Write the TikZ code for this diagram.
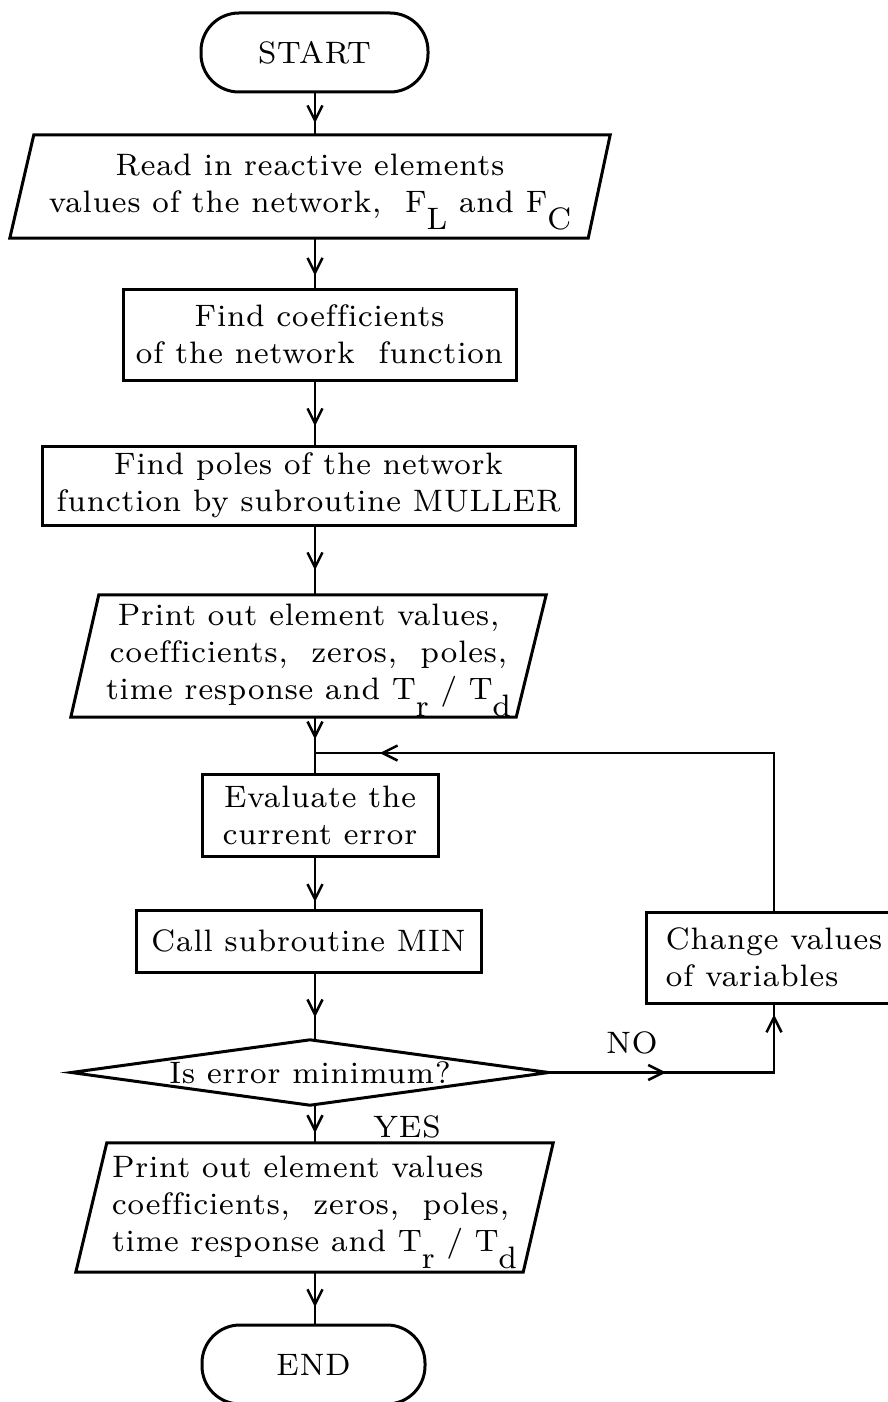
\documentclass[tikz,border=0pt]{standalone}
\usepackage{fontspec}
\setmainfont{lmroman8-regular.otf}[LetterSpace=3, Ligatures=NoCommon]
\usetikzlibrary{arrows.meta,decorations.markings,calc}
\newcommand\fsz{\fontsize{31pt}{37pt}\selectfont}
\newcommand\lowsub[1]{\raisebox{-17pt}[0pt][0pt]{#1}}
\tikzset{
  vtip/.tip={Straight Barb[length=15pt,width=15pt,line width=2.5pt]},
  txt/.style={font=\fsz, inner sep=0pt, align=center},
  term/.style={txt, draw, line width=3pt, rounded corners=38pt},
  proc/.style={txt, draw, line width=3pt},
  shapeline/.style={line width=3pt, line join=miter},
  link/.style={line width=2.6pt},
  tipat/.style={postaction={decorate}, decoration={markings, mark=at position #1 with {\arrow{vtip}}}},
  tiptwo/.style 2 args={postaction={decorate}, decoration={markings, mark=at position #1 with {\arrow{vtip}}, mark=at position #2 with {\arrow{vtip}}}},
}
\begin{document}
\begin{tikzpicture}[x=1pt,y=-1pt]
\useasboundingbox (0,0) rectangle (887,1402);
\fill[white] (0,0) rectangle (887,1402);
\coordinate (axis) at (315,0);

\node[term, minimum width=227pt, minimum height=79pt] (start) at (314.5,52.5) {START};

\node[txt, minimum width=600pt, minimum height=103pt] (read) at (310,186.5)
  {Read in reactive elements\\values of the network,\ \ F\lowsub{L} and F\lowsub{C}};
\draw[shapeline] ([xshift=24pt]read.north west) -- (read.north east) -- ([xshift=-22pt]read.south east) -- (read.south west) -- cycle;

\node[proc, minimum width=393pt, minimum height=91pt] (coef) at (319.5,334.5)
  {Find coefficients\\of the network\ \ function};

\node[proc, minimum width=533pt, minimum height=79pt] (poles) at (308.5,485.5)
  {Find poles of the network\\function by subroutine MULLER};

\node[txt, minimum width=475pt, minimum height=122pt] (out1) at (308.5,656)
  {Print out element values,\\coefficients,\ \ zeros,\ \ poles,\\time response and T\lowsub{r} / T\lowsub{d}};
\draw[shapeline] ([xshift=28pt]out1.north west) -- (out1.north east) -- ([xshift=-30pt]out1.south east) -- (out1.south west) -- cycle;

\node[proc, minimum width=236pt, minimum height=82pt] (eval) at (320,815)
  {Evaluate the\\current error};

\node[proc, minimum width=345pt, minimum height=62pt] (call) at (308.5,941)
  {Call subroutine MIN};

\node[proc, align=left, minimum width=256pt, minimum height=91pt] (change) at (774,957.5)
  {Change values\\of variables};

\node[txt, minimum width=477pt, minimum height=65pt] (test) at (310,1072.5)
  {Is error minimum?};
\draw[shapeline] (test.west) -- (test.north) -- (test.east) -- (test.south) -- cycle;

\node[txt, align=left, minimum width=477pt, minimum height=129pt] (out2) at (314.5,1207.5)
  {Print out element values\\coefficients,\ \ zeros,\ \ poles,\\time response and T\lowsub{r} / T\lowsub{d}};
\draw[shapeline] ([xshift=31pt]out2.north west) -- (out2.north east) -- ([xshift=-30pt]out2.south east) -- (out2.south west) -- cycle;

\node[term, minimum width=223pt, minimum height=79pt] (stop) at (313.5,1364.5) {END};

\node[txt] (no) at (632,1043) {NO};
\node[txt] (yes) at (407,1127) {YES};

\coordinate (junc) at (315,753);

\draw[link, tipat=0.72] (start.south -| axis) -- (read.north -| axis);
\draw[link, tipat=0.76] (read.south -| axis) -- (coef.north -| axis);
\draw[link, tipat=0.71] (coef.south -| axis) -- (poles.north -| axis);
\draw[link, tipat=0.64] (poles.south -| axis) -- (out1.north -| axis);
\draw[link, tipat=0.40] (out1.south -| axis) -- (eval.north -| axis);
\draw[link, tipat=0.87] (eval.south -| axis) -- (call.north -| axis);
\draw[link, tipat=0.66] (call.south -| axis) -- (test.north -| axis);
\draw[link, tipat=0.74] (test.south -| axis) -- (out2.north -| axis);
\draw[link, tipat=0.68] (out2.south -| axis) -- (stop.north -| axis);
\draw[link, tipat=0.895] (change.north) |- (junc);
\draw[link, tiptwo={0.40}{0.966}] (test.east) -| (change.south);
\end{tikzpicture}
\end{document}
